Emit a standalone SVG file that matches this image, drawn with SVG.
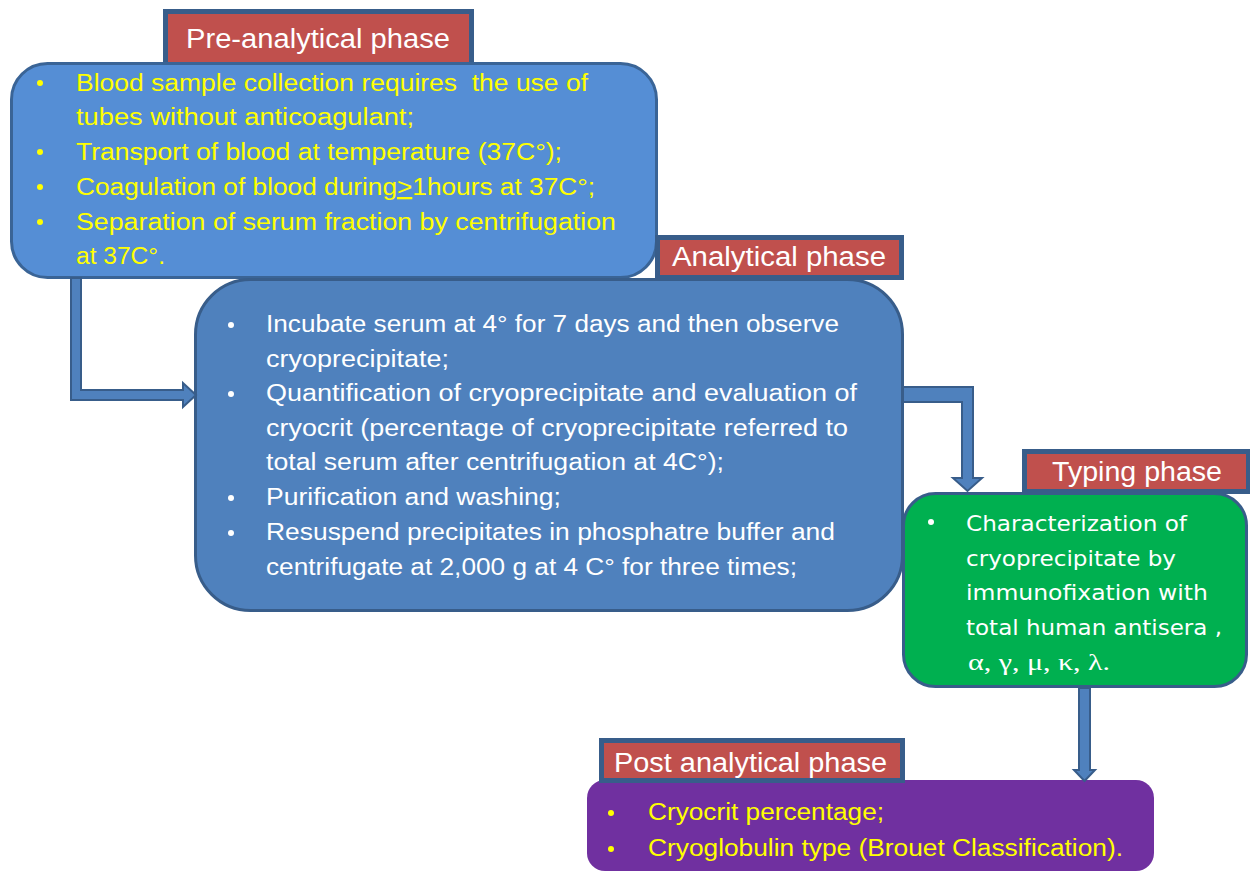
<svg xmlns="http://www.w3.org/2000/svg" width="1250" height="872" viewBox="0 0 1250 872">
<style>
.lbl{fill:#C0504D;stroke:#385D8A;stroke-width:5}
.lt{font-family:"Liberation Sans",Arial,sans-serif;font-size:27px;fill:#FFFFFF}
.t{font-family:"Liberation Sans",Arial,sans-serif;font-size:23px}
.y{fill:#FFFF00}
.w{fill:#FFFFFF}
.g{font-family:"DejaVu Sans",Verdana,sans-serif;font-size:22px;fill:#FFFFFF}
.arr{fill:#4F81BD;stroke:#385D8A;stroke-width:2}
</style>
<rect width="1250" height="872" fill="#FFFFFF"/>
<g id="pre">
<rect class="lbl" x="165.5" y="11.5" width="306" height="60"/>
<text class="lt" x="186" y="48" textLength="264" lengthAdjust="spacingAndGlyphs">Pre-analytical phase</text>
<rect x="11.5" y="63.5" width="645" height="214" rx="36" fill="#558ED5" stroke="#3A6496" stroke-width="3"/>
<g class="y">
<circle cx="40" cy="83" r="3"/><circle cx="40" cy="152" r="3"/><circle cx="40" cy="187" r="3"/><circle cx="40" cy="222" r="3"/>
</g>
<g class="t y">
<text x="76" y="91" textLength="512" lengthAdjust="spacingAndGlyphs">Blood sample collection requires&#160; the use of</text>
<text x="76" y="125" textLength="338" lengthAdjust="spacingAndGlyphs">tubes without anticoagulant;</text>
<text x="76" y="160" textLength="486" lengthAdjust="spacingAndGlyphs">Transport of blood at temperature (37C°);</text>
<text x="76" y="195" textLength="519" lengthAdjust="spacingAndGlyphs">Coagulation of blood during<tspan text-decoration="underline">&gt;</tspan>1hours at 37C°;</text>
<text x="76" y="230" textLength="540" lengthAdjust="spacingAndGlyphs">Separation of serum fraction by centrifugation</text>
<text x="76" y="264" textLength="89" lengthAdjust="spacingAndGlyphs">at 37C°.</text>
</g>
</g>
<g id="analytical">
<rect x="195.5" y="279.5" width="707" height="331" rx="55" fill="#4F81BD" stroke="#385D8A" stroke-width="3"/>
<rect class="lbl" x="657.5" y="237.5" width="244" height="40"/>
<text class="lt" x="672" y="266" textLength="214" lengthAdjust="spacingAndGlyphs">Analytical phase</text>
<g class="w">
<circle cx="231" cy="325" r="3"/><circle cx="231" cy="394" r="3"/><circle cx="231" cy="498" r="3"/><circle cx="231" cy="533" r="3"/>
</g>
<g class="t w">
<text x="266" y="332" textLength="573" lengthAdjust="spacingAndGlyphs">Incubate serum at 4° for 7 days and then observe</text>
<text x="266" y="367" textLength="183" lengthAdjust="spacingAndGlyphs">cryoprecipitate;</text>
<text x="266" y="401" textLength="591" lengthAdjust="spacingAndGlyphs">Quantification of cryoprecipitate and evaluation of</text>
<text x="266" y="436" textLength="582" lengthAdjust="spacingAndGlyphs">cryocrit (percentage of cryoprecipitate referred to</text>
<text x="266" y="470" textLength="458" lengthAdjust="spacingAndGlyphs">total serum after centrifugation at 4C°);</text>
<text x="266" y="505" textLength="295" lengthAdjust="spacingAndGlyphs">Purification and washing;</text>
<text x="266" y="540" textLength="569" lengthAdjust="spacingAndGlyphs">Resuspend precipitates in phosphatre buffer and</text>
<text x="266" y="575" textLength="531" lengthAdjust="spacingAndGlyphs">centrifugate at 2,000 g at 4 C° for three times;</text>
</g>
</g>
<g id="typing">
<rect x="903.5" y="493.5" width="343" height="193" rx="32" fill="#00B050" stroke="#385D8A" stroke-width="3"/>
<rect class="lbl" x="1024.5" y="451.5" width="224" height="40"/>
<text class="lt" x="1052" y="481" textLength="170" lengthAdjust="spacingAndGlyphs">Typing phase</text>
<circle cx="931" cy="522" r="3" fill="#FFFFFF"/>
<text class="g" x="966" y="531" textLength="221" lengthAdjust="spacingAndGlyphs">Characterization of</text>
<text class="g" x="966" y="566" textLength="210" lengthAdjust="spacingAndGlyphs">cryoprecipitate by</text>
<text class="g" x="966" y="600" textLength="242" lengthAdjust="spacingAndGlyphs">immunofixation with</text>
<text class="g" x="966" y="635" textLength="256" lengthAdjust="spacingAndGlyphs">total human antisera ,</text>
<text x="968" y="670" font-family="'Liberation Serif','Times New Roman',serif" font-size="24" fill="#FFFFFF" textLength="142" lengthAdjust="spacingAndGlyphs">α, γ, μ, κ, λ.</text>
</g>
<g id="post">
<rect x="587" y="780" width="567" height="91" rx="18" fill="#7030A0"/>
<rect class="lbl" x="601.5" y="740.5" width="301" height="40"/>
<text class="lt" x="614" y="772" textLength="273" lengthAdjust="spacingAndGlyphs">Post analytical phase</text>
<g class="y">
<circle cx="611" cy="813" r="3"/><circle cx="611" cy="849" r="3"/>
</g>
<g class="t y">
<text x="648" y="820" textLength="236" lengthAdjust="spacingAndGlyphs">Cryocrit percentage;</text>
<text x="648" y="856" textLength="475" lengthAdjust="spacingAndGlyphs">Cryoglobulin type (Brouet Classification).</text>
</g>
</g>
<g id="connectors">
<polygon class="arr" points="71,278 81,278 81,390 183,390 183,383 196,395 183,407 183,400 71,400"/>
<polygon class="arr" points="903,387 973,387 973,478 982,478 967.5,491 953,478 962,478 962,402 903,402"/>
<polygon class="arr" points="1079,688 1090,688 1090,770 1095,770 1084.5,781 1074,770 1079,770"/>
</g>
</svg>
